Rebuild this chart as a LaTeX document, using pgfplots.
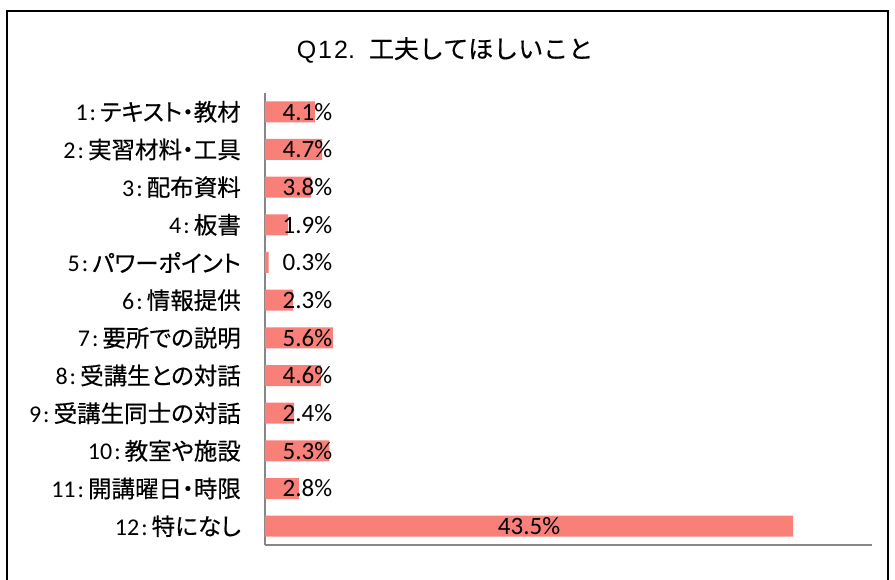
\documentclass[border=0pt]{standalone}
\usepackage{fontspec}
\usepackage{pgfplots}
\pgfplotsset{compat=1.18}
\usepackage{pgfplotstable}
\setmainfont{Carlito}
\newfontfamily\jp{Noto Sans CJK JP}[FakeBold=0.4]
\newfontfamily\jpp{Noto Sans CJK JP}[FakeBold=0.4,RawFeature=+palt]
\newfontfamily\arial{Liberation Sans}
\definecolor{barc}{RGB}{248,128,121}
\definecolor{axc}{RGB}{134,134,134}
\newcommand\lab[2]{#1\kern2pt:\kern4pt{\jpp\fontsize{23.5}{23.5}\selectfont #2}}
\pgfplotstableread{
y val pos
12 4.1 3.5
11 4.7 3.5
10 3.8 3.5
9 1.9 3.5
8 0.3 3.5
7 2.3 3.5
6 5.6 3.5
5 4.6 3.5
4 2.4 3.5
3 5.3 3.5
2 2.8 3.5
1 43.5 21.75
}\data
\begin{document}
\begin{tikzpicture}
\useasboundingbox (0,0) rectangle (895pt,-580pt);
\draw[line width=2pt] (7pt,-600pt) -- (7pt,-11pt) -- (888pt,-11pt) -- (888pt,-600pt);
\node[inner sep=0pt] at (445pt,-50pt) {{\arial\fontsize{25}{25}\selectfont Q\kern2pt1\kern2pt2.}\kern14pt{\jp\fontsize{25}{25}\selectfont 工夫してほしいこと}};
\begin{axis}[
  scale only axis, width=607pt, height=452pt,
  at={(265pt,-545pt)}, anchor=south west,
  xmin=0, xmax=50, ymin=0.5, ymax=12.5,
  axis x line*=bottom, axis y line*=left,
  axis line style={axc, line width=1.5pt, -},
  xtick=\empty,
  ytick={1,...,12},
  yticklabels={\lab{12}{特になし},\lab{11}{開講曜日・時限},\lab{10}{教室や施設},\lab{9}{受講生同士の対話},\lab{8}{受講生との対話},\lab{7}{要所での説明},\lab{6}{情報提供},\lab{5}{パワーポイント},\lab{4}{板書},\lab{3}{配布資料},\lab{2}{実習材料・工具},\lab{1}{テキスト・教材}},
  major tick length=0pt,
  yticklabel style={inner sep=0pt, anchor=east, xshift=-24pt, font=\fontsize{24}{24}\selectfont},
  /pgf/number format/assume math mode=true,
  clip=false,
]
\addplot[xbar, bar width=21pt, fill=barc, draw=none] table[x=val,y=y]{\data};
\addplot[draw=none, mark=none, point meta=explicit,
  nodes near coords={\pgfmathprintnumber[fixed,fixed zerofill,precision=1]{\pgfplotspointmeta}\%},
  every node near coord/.append style={anchor=center, inner sep=0pt, font=\fontsize{25}{25}\selectfont}]
  table[x=pos,y=y,meta=val]{\data};
\end{axis}
\end{tikzpicture}
\end{document}
